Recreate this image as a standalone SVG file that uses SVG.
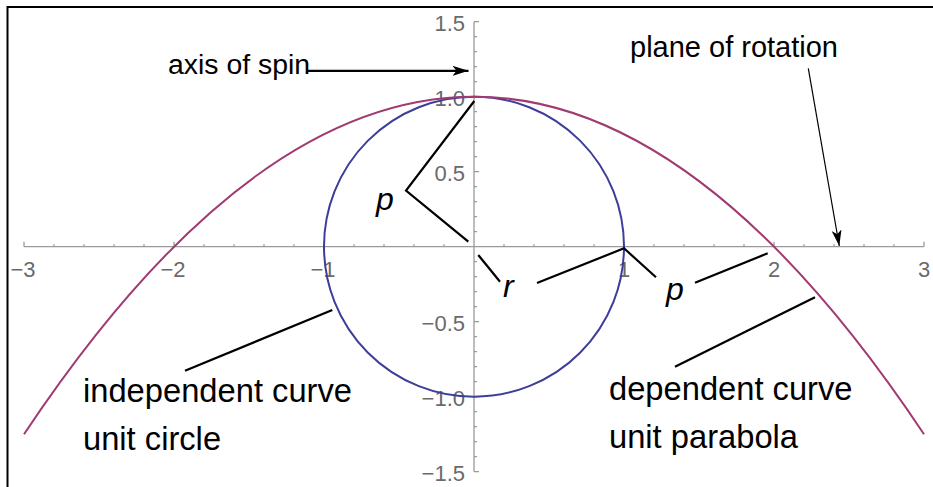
<svg xmlns="http://www.w3.org/2000/svg" width="933" height="487" viewBox="0 0 933 487">
<style>
.ax{stroke:#9a9a9a;stroke-width:1.3;fill:none}
.tl{font-family:"Liberation Sans",Arial,sans-serif;font-size:22px;fill:#6a6a6a}
.lb{font-family:"Liberation Sans",Arial,sans-serif;fill:#000}
.it{font-family:"Liberation Sans",Arial,sans-serif;font-style:italic;font-size:32px;fill:#000}
.ln{stroke:#000;stroke-width:2.2;fill:none}
</style>
<defs>
<marker id="ah" viewBox="0 0 16 10" refX="16" refY="5" markerWidth="16" markerHeight="10" markerUnits="userSpaceOnUse" orient="auto">
<path d="M0,0 L16,5 L0,10 L4,5 Z" fill="#000"/>
</marker>
</defs>
<rect width="933" height="487" fill="#fff"/>
<path d="M7.5,487 V7 H933" stroke="#000" stroke-width="2" fill="none"/>
<g id="axes">
<path class="ax" d="M24,246.7 H924 M474,21.7 V471.7"/>
<path class="ax" d="M24,246.7v-5 M54,246.7v-2.5 M84,246.7v-2.5 M114,246.7v-2.5 M144,246.7v-2.5 M174,246.7v-5 M204,246.7v-2.5 M234,246.7v-2.5 M264,246.7v-2.5 M294,246.7v-2.5 M324,246.7v-5 M354,246.7v-2.5 M384,246.7v-2.5 M414,246.7v-2.5 M444,246.7v-2.5 M504,246.7v-2.5 M534,246.7v-2.5 M564,246.7v-2.5 M594,246.7v-2.5 M624,246.7v-5 M654,246.7v-2.5 M684,246.7v-2.5 M714,246.7v-2.5 M744,246.7v-2.5 M774,246.7v-5 M804,246.7v-2.5 M834,246.7v-2.5 M864,246.7v-2.5 M894,246.7v-2.5 M924,246.7v-5"/>
<path class="ax" d="M474,21.7h5 M474,36.7h3 M474,51.7h3 M474,66.7h3 M474,81.7h3 M474,96.7h5 M474,111.7h3 M474,126.7h3 M474,141.7h3 M474,156.7h3 M474,171.7h5 M474,186.7h3 M474,201.7h3 M474,216.7h3 M474,231.7h3 M474,261.7h3 M474,276.7h3 M474,291.7h3 M474,306.7h3 M474,321.7h5 M474,336.7h3 M474,351.7h3 M474,366.7h3 M474,381.7h3 M474,396.7h5 M474,411.7h3 M474,426.7h3 M474,441.7h3 M474,456.7h3 M474,471.7h5"/>
<g class="tl" text-anchor="middle">
<text x="23" y="277">−3</text>
<text x="173" y="277">−2</text>
<text x="323" y="277">−1</text>
<text x="624" y="277">1</text>
<text x="774" y="277">2</text>
<text x="924" y="277">3</text>
</g>
<g class="tl" text-anchor="end">
<text x="465" y="31">1.5</text>
<text x="465" y="106">1.0</text>
<text x="465" y="180.5">0.5</text>
<text x="465" y="330.5">−0.5</text>
<text x="465" y="405.5">−1.0</text>
<text x="465" y="480.5">−1.5</text>
</g>
</g>
<g id="unit-circle">
<circle cx="474" cy="246.7" r="150" stroke="#3d3d9a" stroke-width="2" fill="none"/>
</g>
<g id="unit-parabola">
<path d="M24,434.2 Q474,-240.8 924,434.2" stroke="#a03a70" stroke-width="2" fill="none"/>
</g>
<g id="connectors">
<path class="ln" d="M307,70.8 H468.5" marker-end="url(#ah)"/>
<path d="M808.3,68.3 L839.3,246" stroke="#000" stroke-width="1.2" fill="none" marker-end="url(#ah)"/>
<path class="ln" d="M474.3,101 L406,190.5 L468.3,241.7"/>
<path class="ln" d="M478.3,255 L500,281.7"/>
<path class="ln" d="M537,283 L624,248.3 L656,277.3"/>
<path class="ln" d="M695,282.7 L767.7,253.3"/>
<path class="ln" d="M185,370.7 L332.3,310"/>
<path class="ln" d="M675,366.7 L815,297.3"/>
</g>
<g id="label-axis-of-spin"><text class="lb" x="168" y="74" font-size="28.4">axis of spin</text></g>
<g id="label-plane-of-rotation"><text class="lb" x="630" y="56.7" font-size="29">plane of rotation</text></g>
<g id="label-independent"><text class="lb" x="83" y="401.7" font-size="32.7">independent curve</text><text class="lb" x="83" y="450" font-size="32.7">unit circle</text></g>
<g id="label-dependent"><text class="lb" x="609" y="400" font-size="32.7">dependent curve</text><text class="lb" x="609" y="448" font-size="32.7">unit parabola</text></g>
<g id="label-p1"><text class="it" x="376" y="210">p</text></g>
<g id="label-r"><text class="it" x="503" y="297">r</text></g>
<g id="label-p2"><text class="it" x="666" y="300">p</text></g>
</svg>
